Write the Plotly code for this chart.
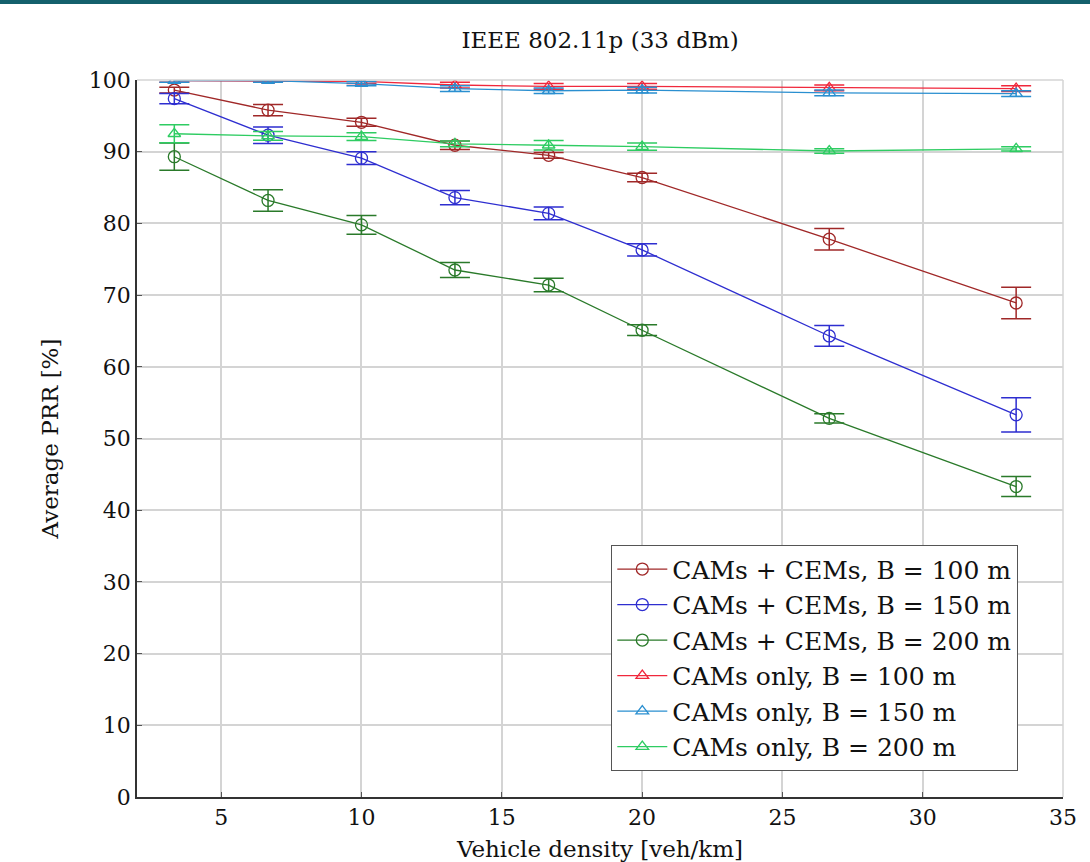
import plotly.graph_objects as go

density = [3.33, 6.67, 10.0, 13.33, 16.67, 20.0, 26.67, 33.33]

cc100 = [98.6, 95.8, 94.1, 90.9, 89.5, 86.4, 77.8, 68.9]
cc100_err = [0.4, 0.8, 0.55, 0.6, 0.4, 0.6, 1.5, 2.2]
cc150 = [97.4, 92.3, 89.1, 83.6, 81.4, 76.3, 64.3, 53.3]
cc150_err = [0.7, 1.15, 0.9, 1.0, 0.9, 0.85, 1.45, 2.4]
cc200 = [89.3, 83.2, 79.8, 73.5, 71.4, 65.1, 52.8, 43.3]
cc200_err = [1.9, 1.5, 1.3, 1.05, 0.95, 0.75, 0.65, 1.4]
co100 = [99.9, 99.9, 99.8, 99.3, 99.1, 99.1, 98.9, 98.8]
co100_err = [0.2, 0.2, 0.3, 0.4, 0.4, 0.4, 0.4, 0.4]
co150 = [99.9, 99.9, 99.5, 98.8, 98.5, 98.6, 98.2, 98.1]
co150_err = [0.2, 0.2, 0.3, 0.4, 0.4, 0.4, 0.4, 0.4]
co200 = [92.5, 92.2, 92.1, 91.1, 90.9, 90.7, 90.1, 90.4]
co200_err = [1.25, 0.6, 0.55, 0.4, 0.65, 0.5, 0.3, 0.3]

x_ticks = [5, 10, 15, 20, 25, 30, 35]
y_ticks = [0, 10, 20, 30, 40, 50, 60, 70, 80, 90, 100]

series = [
    ("CAMs + CEMs, B = 100 m", cc100, cc100_err, "#a02828", "circle-open"),
    ("CAMs + CEMs, B = 150 m", cc150, cc150_err, "#2e2ed0", "circle-open"),
    ("CAMs + CEMs, B = 200 m", cc200, cc200_err, "#2a7a2a", "circle-open"),
    ("CAMs only, B = 100 m", co100, co100_err, "#f0283c", "triangle-up-open"),
    ("CAMs only, B = 150 m", co150, co150_err, "#2a8fd0", "triangle-up-open"),
    ("CAMs only, B = 200 m", co200, co200_err, "#2ecc62", "triangle-up-open"),
]

FONT = "DejaVu Serif"
TXT = "#111111"

fig = go.Figure()
for name, y, e, c, sym in series:
    fig.add_trace(go.Scatter(
        x=density, y=y, name=name, mode="lines+markers",
        line=dict(color=c, width=1.3),
        marker=dict(symbol=sym, size=12 if "circle" in sym else 11,
                    color=c, line=dict(color=c, width=1.3)),
        error_y=dict(type="data", array=e, visible=True, color=c,
                     thickness=1.5, width=15),
    ))

fig.update_layout(
    width=1090, height=862,
    margin=dict(l=137, r=27, t=80, b=65),
    paper_bgcolor="white", plot_bgcolor="white",
    font=dict(family=FONT, color=TXT, size=22),
    title=dict(text="IEEE 802.11p (33 dBm)", x=600 / 1090, xanchor="center",
               y=1 - 40 / 862, yanchor="middle",
               font=dict(family=FONT, size=23, color=TXT)),
    legend=dict(x=(1018 - 137) / 926, xanchor="right",
                y=(797 - 545) / 717, yanchor="top",
                bgcolor="white", bordercolor="#555555", borderwidth=1.3,
                font=dict(family=FONT, size=25, color=TXT),
                tracegroupgap=0, itemwidth=50),
    showlegend=True,
)

fig.update_xaxes(
    range=[2, 35], tickvals=x_ticks,
    showgrid=True, gridcolor="#d4d4d4", gridwidth=1.5,
    showline=True, linecolor="#333333", linewidth=1.8,
    ticks="inside", ticklen=5, tickcolor="#555555",
    zeroline=False, tickfont=dict(size=22),
    title=dict(text="Vehicle density [veh/km]", standoff=27,
               font=dict(size=23)),
    automargin=False, mirror=False,
)
fig.update_yaxes(
    range=[0, 100], tickvals=y_ticks,
    showgrid=True, gridcolor="#d4d4d4", gridwidth=1.5,
    showline=True, linecolor="#333333", linewidth=1.8,
    ticks="inside", ticklen=5, tickcolor="#555555",
    zeroline=False, tickfont=dict(size=22),
    title=dict(text="Average PRR [%]", standoff=24, font=dict(size=23)),
    automargin=False,
)

# right and top frame (light)
fig.add_shape(type="line", xref="paper", yref="paper", x0=1, x1=1, y0=0, y1=1,
              line=dict(color="#d4d4d4", width=1.5))
fig.add_shape(type="line", xref="paper", yref="paper", x0=0, x1=1, y0=1, y1=1,
              line=dict(color="#d4d4d4", width=1.5))
# teal strip at the top of the page
fig.add_shape(type="rect", xref="paper", yref="paper",
              x0=-137 / 926, x1=1 + 27 / 926,
              y0=1 + 76 / 717, y1=1 + 80 / 717,
              fillcolor="#14606c", line=dict(width=0), layer="above")

fig.write_html("out.html",
               config={"displayModeBar": False},
               post_script="document.body.style.margin='0';document.body.style.overflow='hidden';")
